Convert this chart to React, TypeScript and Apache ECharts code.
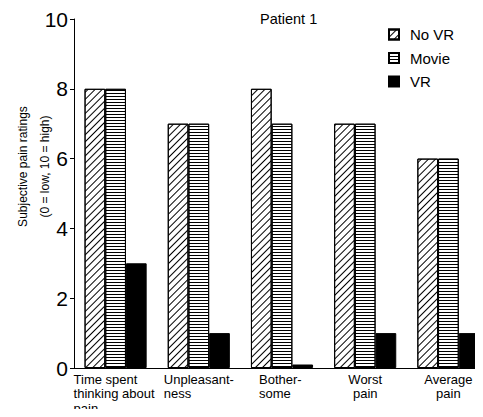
import React, { useEffect, useRef } from "react";
import * as echarts from "echarts";

const categories = [
  "Time spent\nthinking about\npain",
  "Unpleasant-\nness",
  "Bother-\nsome",
  "Worst\npain",
  "Average\npain",
];
const noVR = [8, 7, 8, 7, 6];
const movie = [8, 7, 7, 7, 6];
const vr = [3, 1, 0.1, 1, 1];
const seriesNames = ["No VR", "Movie", "VR"];
const yTicks = [0, 2, 4, 6, 8, 10];
const titleText = "Patient 1";
const yName = "Subjective pain ratings\n(0 = low, 10 = high)";

const FONT = "'Liberation Sans', Arial, sans-serif";

// label block widths and line alignment per category
const labelStyles = [
  { width: 84, align: "left" },
  { width: 70, align: "left" },
  { width: 46, align: "left" },
  { width: 50, align: "center" },
  { width: 60, align: "center" },
];

export default function App() {
  const ref = useRef<HTMLDivElement>(null);
  useEffect(() => {
    if (!ref.current) return;
    const chart = echarts.init(ref.current, null, { renderer: "svg" });
    const rich: any = {};
    labelStyles.forEach((s, i) => {
      rich["l" + i] = {
        width: s.width,
        align: s.align,
        fontSize: 13,
        lineHeight: 14.5,
        fontFamily: FONT,
        color: "#000",
      };
    });
    const barBase = {
      type: "bar",
      barWidth: 20.7,
      barGap: "0%",
    };
    chart.setOption({
      animation: false,
      backgroundColor: "#fff",
      title: {
        text: titleText,
        left: 255,
        top: 6,
        textStyle: { fontSize: 14.5, fontWeight: "normal", fontFamily: FONT, color: "#000" },
      },
      legend: {
        orient: "vertical",
        left: 383,
        top: 22,
        icon: "rect",
        itemWidth: 10,
        itemHeight: 10,
        itemGap: 8.5,
        data: seriesNames,
        textStyle: { fontSize: 15, fontFamily: FONT, color: "#000", padding: [0, 0, 0, 6] },
      },
      grid: {
        left: 74,
        right: -7,
        top: 19,
        bottom: 49,
        containLabel: false,
        outerBoundsMode: "none",
      },
      xAxis: {
        type: "category",
        data: categories,
        axisLine: { lineStyle: { color: "#000", width: 1 } },
        axisTick: { show: false },
        axisLabel: {
          interval: 0,
          margin: 4,
          hideOverlap: false,
          formatter: (v: string, idx: number) =>
            v
              .split("\n")
              .map((line) => `{l${idx}|${line}}`)
              .join("\n"),
          rich,
        },
      },
      yAxis: {
        type: "value",
        min: yTicks[0],
        max: yTicks[yTicks.length - 1],
        interval: 2,
        name: yName,
        nameLocation: "middle",
        nameGap: 18,
        nameMoveOverlap: false,
        nameTextStyle: {
          fontSize: 12,
          lineHeight: 22,
          fontFamily: FONT,
          color: "#000",
          padding: [0, 0, 0, 54],
        },
        axisLine: { show: true, lineStyle: { color: "#000", width: 1 } },
        axisTick: { show: true, length: 4, lineStyle: { color: "#000" } },
        splitLine: { show: false },
        axisLabel: { fontSize: 21, fontFamily: FONT, color: "#000", margin: 6 },
      },
      series: [
        {
          ...barBase,
          name: seriesNames[0],
          data: noVR,
          itemStyle: {
            color: "#fff",
            borderColor: "#000",
            borderWidth: 1,
            decal: {
              symbol: "rect",
              symbolSize: 1,
              color: "#000",
              backgroundColor: "#fff",
              dashArrayX: [1, 0],
              dashArrayY: [1, 4],
              rotation: -Math.PI / 4,
            },
          },
        },
        {
          ...barBase,
          name: seriesNames[1],
          data: movie,
          itemStyle: {
            color: "#fff",
            borderColor: "#000",
            borderWidth: 1,
            decal: {
              symbol: "rect",
              symbolSize: 1,
              color: "#000",
              backgroundColor: "#fff",
              dashArrayX: [1, 0],
              dashArrayY: [1, 2],
              rotation: 0,
            },
          },
        },
        {
          ...barBase,
          name: seriesNames[2],
          data: vr,
          itemStyle: { color: "#000", borderColor: "#000", borderWidth: 1 },
        },
      ],
    });
    return () => chart.dispose();
  }, []);
  return <div ref={ref} style={{ width: 483, height: 417, margin: -8 }} />;
}
